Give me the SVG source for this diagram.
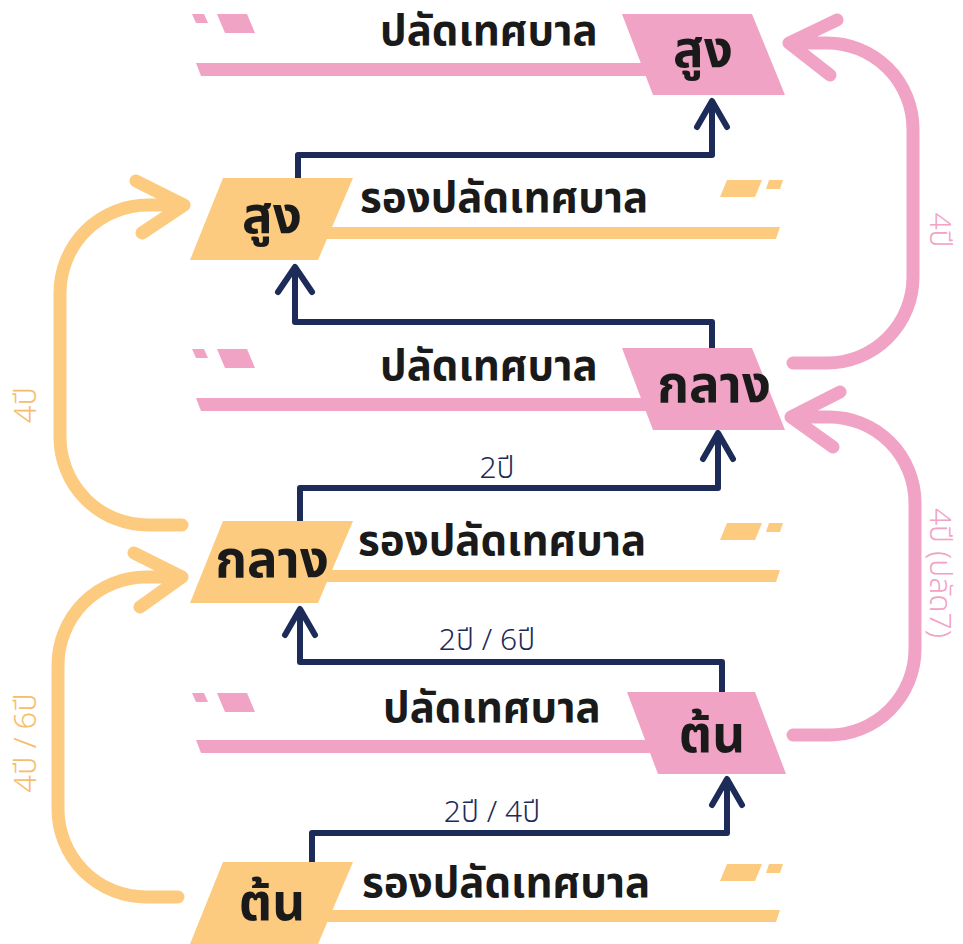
<svg xmlns="http://www.w3.org/2000/svg" width="963" height="944" viewBox="0 0 963 944">
<style>
.pk{fill:#F1A3C6}
.yl{fill:#FDCB7F}
.t{font-family:"Noto Sans Thai","Noto Sans","DejaVu Sans",sans-serif;font-weight:700;fill:#1A1A1A}
.title{font-size:42px}
.node{font-size:51px;text-anchor:middle}
.nav{fill:none;stroke:#1C2B57;stroke-width:6;stroke-linejoin:round;stroke-linecap:round}
.ycur{fill:none;stroke:#FDCB7F;stroke-width:13;stroke-linecap:round;stroke-linejoin:round}
.pcur{fill:none;stroke:#F1A3C6;stroke-width:13;stroke-linecap:round;stroke-linejoin:round}
.lbl{font-family:"Noto Sans Thai","Noto Sans","DejaVu Sans",sans-serif;font-weight:300;text-anchor:middle}
.ln{fill:#1C2B57;font-size:30px}
.ly{fill:#F5BE6E;font-size:31px}
.lp{fill:#F1A3C6;font-size:30px}
</style>
<rect width="963" height="944" fill="#FFFFFF"/>
<g id="connectors">
<path class="nav" d="M298,180 V155 H712 V102 M697,127 L712,101 L727,127"/>
<path class="nav" d="M712,350 V322 H295 V268 M278,292 L295,267 L312,292"/>
<path class="nav" d="M300,521 V488 H718 V434 M703,459 L718,433 L733,459"/>
<path class="nav" d="M722,692 V662 H300 V610 M285,635 L300,609 L315,635"/>
<path class="nav" d="M312,862 V833 H727 V780 M712,805 L727,779 L742,805"/>
<path class="ycur" d="M182,525 H148 A88,88 0 0 1 60,437 V293 A88,88 0 0 1 148,205 H183 M136,181 L184,205 L142,233"/>
<path class="ycur" d="M178,897 H146 A88,88 0 0 1 58,809 V665 A88,88 0 0 1 146,577 H182 M134,553 L182,577 L140,607"/>
<path class="pcur" d="M793,363 H827 A86,86 0 0 0 913,277 V129 A86,86 0 0 0 827,43 H790 M837,20 L789,43 L830,75"/>
<path class="pcur" d="M793,735 H829 A86,86 0 0 0 915,649 V503 A86,86 0 0 0 829,417 H792 M840,392 L791,417 L833,447"/>
<text class="lbl ln" x="497" y="478">2ปี</text>
<text class="lbl ln" x="487" y="650">2ปี / 6ปี</text>
<text class="lbl ln" x="492" y="822">2ปี / 4ปี</text>
<text class="lbl ly" transform="translate(36,405) rotate(-90)">4ปี</text>
<text class="lbl ly" transform="translate(36,743) rotate(-90)">4ปี / 6ปี</text>
<text class="lbl lp" transform="translate(930,230) rotate(90)">4ปี</text>
<text class="lbl lp" transform="translate(930,573) rotate(90)">4ปี (ปลัด7)</text>
</g>
<g id="mayor-high">
<path class="pk" d="M192,14 H204 L208,23 H196 Z M217,14 H247 L255,33 H225 Z"/>
<path class="pk" d="M196,63 H660 L665,76 H201 Z"/>
<path class="pk" d="M622,14 H752 L785,95 H653 Z"/>
<text class="t title" x="380" y="45">ปลัดเทศบาล</text>
<text class="t node" x="703" y="67">สูง</text>
</g>
<g id="deputy-high">
<path class="yl" d="M727,180 H762 L755,197 H720 Z M769,180 H783 L780,189 H766 Z"/>
<path class="yl" d="M320,227 H780 L776,239 H316 Z"/>
<path class="yl" d="M223,178 H353 L318,260 H190 Z"/>
<text class="t title" x="360" y="212">รองปลัดเทศบาล</text>
<text class="t node" x="272" y="233">สูง</text>
</g>
<g id="mayor-mid">
<path class="pk" d="M192,349 H204 L208,358 H196 Z M217,349 H247 L255,368 H225 Z"/>
<path class="pk" d="M196,398 H660 L665,411 H201 Z"/>
<path class="pk" d="M622,348 H752 L785,430 H653 Z"/>
<text class="t title" x="380" y="380">ปลัดเทศบาล</text>
<text class="t node" x="714" y="402">กลาง</text>
</g>
<g id="deputy-mid">
<path class="yl" d="M727,523 H762 L755,540 H720 Z M769,523 H783 L780,532 H766 Z"/>
<path class="yl" d="M320,570 H780 L776,582 H316 Z"/>
<path class="yl" d="M223,521 H353 L318,603 H190 Z"/>
<text class="t title" x="358" y="555">รองปลัดเทศบาล</text>
<text class="t node" x="272" y="577">กลาง</text>
</g>
<g id="mayor-low">
<path class="pk" d="M192,693 H204 L208,702 H196 Z M217,693 H247 L255,712 H225 Z"/>
<path class="pk" d="M196,740 H660 L665,753 H201 Z"/>
<path class="pk" d="M627,692 H755 L786,774 H658 Z"/>
<text class="t title" x="383" y="722">ปลัดเทศบาล</text>
<text class="t node" x="712" y="752">ต้น</text>
</g>
<g id="deputy-low">
<path class="yl" d="M727,864 H762 L755,881 H720 Z M769,864 H783 L780,873 H766 Z"/>
<path class="yl" d="M320,910 H780 L776,922 H316 Z"/>
<path class="yl" d="M223,862 H353 L318,944 H190 Z"/>
<text class="t title" x="362" y="897">รองปลัดเทศบาล</text>
<text class="t node" x="272" y="920">ต้น</text>
</g>
</svg>
